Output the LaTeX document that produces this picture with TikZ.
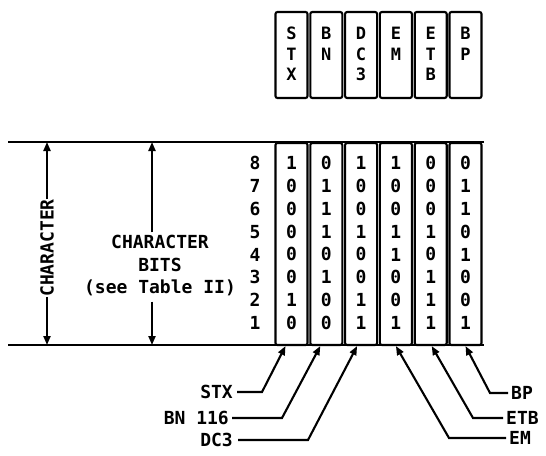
\documentclass[tikz,border=0pt]{standalone}
\usepackage{fontspec}
\newfontfamily\tapefont{DejaVu Sans Mono}
\usetikzlibrary{arrows.meta}

\begin{document}
\begin{tikzpicture}[x=1pt, y=-1pt,
  cell/.style={draw, line width=2.1pt, rounded corners=2pt, minimum width=32pt, inner sep=0pt},
  bit/.style={font=\tapefont\bfseries\fontsize{18}{20}\selectfont, inner sep=0pt},
  txt/.style={font=\tapefont\bfseries\fontsize{18}{22.5}\selectfont, align=center, inner sep=0pt},
  letters/.style={font=\tapefont\bfseries\fontsize{17}{20.5}\selectfont, align=center, inner sep=0pt},
  frame/.style={line width=2.4pt},
  arrow/.style={line width=2.1pt, -{Triangle[length=9pt, width=7pt]}}
]
\useasboundingbox (0,0) rectangle (546,455);

% Character set strip (top)
\foreach \i/\name in {1/S\\T\\X, 2/B\\N, 3/D\\C\\3, 4/E\\M, 5/E\\T\\B, 6/B\\P} {
  \node[cell, minimum height=86pt] (top\i) at ({291.5+34.8*(\i-1)}, 55) {};
  \node[letters, anchor=north] (lett\i) at ([yshift=-16pt]top\i.north) {\name};
}

% Frame lines
\coordinate (tl) at (8,142);
\coordinate (tr) at (484,142);
\coordinate (bl) at (8,345);
\coordinate (br) at (484,345);
\draw[frame] (tl) -- (tr);
\draw[frame] (bl) -- (br);

% Bit columns
\foreach \i/\bits in {1/{1,0,0,0,0,0,1,0}, 2/{0,1,1,1,0,1,0,0}, 3/{1,0,0,1,0,0,1,1},
                      4/{1,0,0,1,1,0,0,1}, 5/{0,0,0,1,0,1,1,1}, 6/{0,1,1,0,1,0,0,1}} {
  \node[cell, minimum height=202pt] (col\i) at ({291.5+34.8*(\i-1)}, 244) {};
  \foreach \b [count=\r] in \bits
    \node[bit] (b\i\r) at ({291.5+34.8*(\i-1)}, {163+22.86*(\r-1)}) {\b};
}

% Bit numbers
\foreach \n [count=\r] in {8,7,6,5,4,3,2,1}
  \node[bit] (num\n) at (255, {163+22.86*(\r-1)}) {\n};

% Dimension arrows
\node[txt, rotate=90] (char) at (47,248) {CHARACTER};
\draw[arrow] (char.east) -- (char.east |- tl);
\draw[arrow] (char.west) -- (char.west |- bl);

\node[txt] (bits) at (160,266) {CHARACTER\\BITS\\(see Table II)};
\draw[arrow] ([xshift=-8pt, yshift=3pt]bits.north) -- ([xshift=-8pt]bits.north |- tl);
\draw[arrow] ([xshift=-8pt, yshift=-5pt]bits.south) -- ([xshift=-8pt]bits.south |- bl);

% Code labels (bottom)
\node[txt, anchor=east] (lstx) at (233,392) {STX};
\node[txt, anchor=east] (lbn) at (229,418) {BN 116};
\node[txt, anchor=east] (ldc) at (233,440) {DC3};
\node[txt, anchor=west] (lbp) at (511,393) {BP};
\node[txt, anchor=west] (letb) at (506,418) {ETB};
\node[txt, anchor=west] (lem) at (509,438) {EM};

\draw[arrow] ([xshift=4pt]lstx.east) -- ++(25,0) -- ([xshift=-6pt]col1.south);
\draw[arrow] ([xshift=3pt]lbn.east) -- ++(50,0) -- ([xshift=-6pt]col2.south);
\draw[arrow] ([xshift=5pt]ldc.east) -- ++(70,0) -- ([xshift=-4pt]col3.south);
\draw[arrow] ([xshift=-3pt]lem.west) -- ++(-57,0) -- (col4.south);
\draw[arrow] ([xshift=-3pt]letb.west) -- ++(-30,0) -- ([xshift=1pt]col5.south);
\draw[arrow] ([xshift=-3pt]lbp.west) -- ++(-18,0) -- (col6.south);

\end{tikzpicture}
\end{document}
